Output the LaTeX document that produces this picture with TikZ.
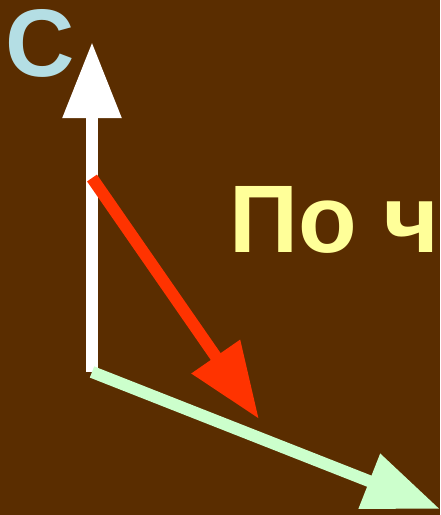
\documentclass[tikz,border=0pt]{standalone}
\usepackage{fontspec}
\setmainfont{Liberation Sans}
\usepackage{xcolor}
\usetikzlibrary{arrows.meta}
\definecolor{bgbrown}{HTML}{5A2D00}
\definecolor{axisblue}{HTML}{B4DEE4}
\definecolor{textyellow}{HTML}{FFFF99}
\definecolor{vecred}{HTML}{FF3300}
\definecolor{vecgreen}{HTML}{CCFFCC}

\begin{document}
\begin{tikzpicture}[x=1pt, y=-1pt,
    vec/.style={line width=12pt, -{Triangle[length=76pt, width=56pt]}},
    lbl/.style={inner sep=0pt, font=\bfseries\fontsize{96}{96}\selectfont}]
        \fill[bgbrown] (0,0) rectangle (440,515);
        \clip (0,0) rectangle (440,515);
        \coordinate (orig) at (92,372);
        \coordinate (top) at (92,42);
        \coordinate (rstart) at (92,178);
        \coordinate (rend) at (259,419);
        \coordinate (gend) at (440,509);
        \node[lbl, text=axisblue, anchor=base west] (axis) at (5,76) {С};
        \node[lbl, text=textyellow, anchor=base west] (title) at (229,252) {По ч};
        \draw[vec, white] (orig) -- (top);
        \draw[vec, vecgreen] (orig) -- (gend);
        \draw[vec, vecred] (rstart) -- (rend);
      \end{tikzpicture}
\end{document}
